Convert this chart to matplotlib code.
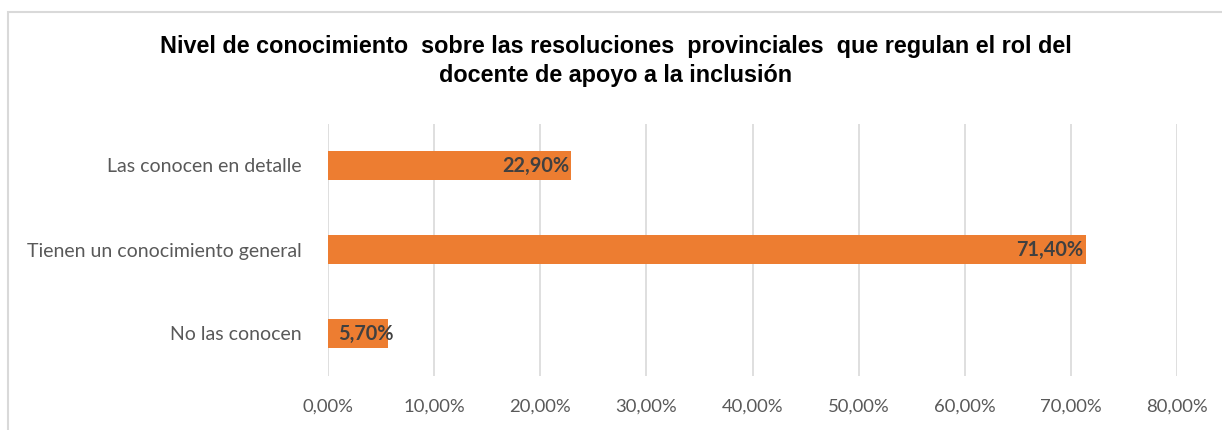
import matplotlib
matplotlib.use("Agg")
import matplotlib.pyplot as plt
from matplotlib.patches import Rectangle
from matplotlib.ticker import FuncFormatter, MultipleLocator
from matplotlib import font_manager

categories = ["No las conocen", "Tienen un conocimiento general", "Las conocen en detalle"]
values = [5.70, 71.40, 22.90]
title = "Nivel de conocimiento  sobre las resoluciones  provinciales  que regulan el rol del\ndocente de apoyo a la inclusión"

names = {f.name for f in font_manager.fontManager.ttflist}
title_font = "Liberation Sans"
label_font = "Lato" if "Lato" in names else "DejaVu Sans"

fig = plt.figure(figsize=(12.22, 4.30), dpi=100)
fig.patch.set_facecolor("white")

# chart border (cropped on right/bottom)
fig.patches.append(Rectangle((8/1222, -0.1), 1.2, 1 - 12/430 + 0.1, transform=fig.transFigure,
                             fill=False, edgecolor="#d9d9d9", linewidth=1.5))

ax = fig.add_axes([328/1222, 1 - 375.5/430, (1177 - 328)/1222, (375.5 - 123.5)/430])
bars = ax.barh(range(len(categories)), values, height=0.345, color="#ed7d31")
ax.set_xlim(0, 80)
ax.set_ylim(-0.5, len(categories) - 0.5)
ax.set_yticks(range(len(categories)))
ax.set_yticklabels(categories, fontfamily=label_font, fontsize=14, color="#595959")
ax.xaxis.set_major_locator(MultipleLocator(10))
ax.xaxis.set_major_formatter(FuncFormatter(lambda v, p: f"{v:.2f}%".replace(".", ",")))
for lab in ax.get_xticklabels():
    lab.set_fontfamily(label_font)
    lab.set_fontsize(13.3)
    lab.set_color("#595959")
ax.tick_params(axis="both", length=0)
ax.tick_params(axis="x", pad=17)
ax.tick_params(axis="y", pad=19)
ax.grid(axis="x", color="#d9d9d9", linewidth=1.2)
ax.set_axisbelow(True)
for s in ax.spines.values():
    s.set_visible(False)

for b, v in zip(bars, values):
    ax.annotate(f"{v:.2f}%".replace(".", ","), (b.get_width(), b.get_y() + b.get_height() / 2),
                xytext=(-1.5 if v > 10 else 4, 0), textcoords="offset points",
                ha="right", va="center", fontfamily=label_font, fontweight="bold",
                fontsize=14.3, color="#404040")

fig.text(616/1222, 1 - 61/430, title, ha="center", va="center", fontfamily=title_font,
         fontweight="bold", fontsize=16.8, color="black", linespacing=1.32)

fig.savefig("out.png", dpi=100, facecolor="white")
